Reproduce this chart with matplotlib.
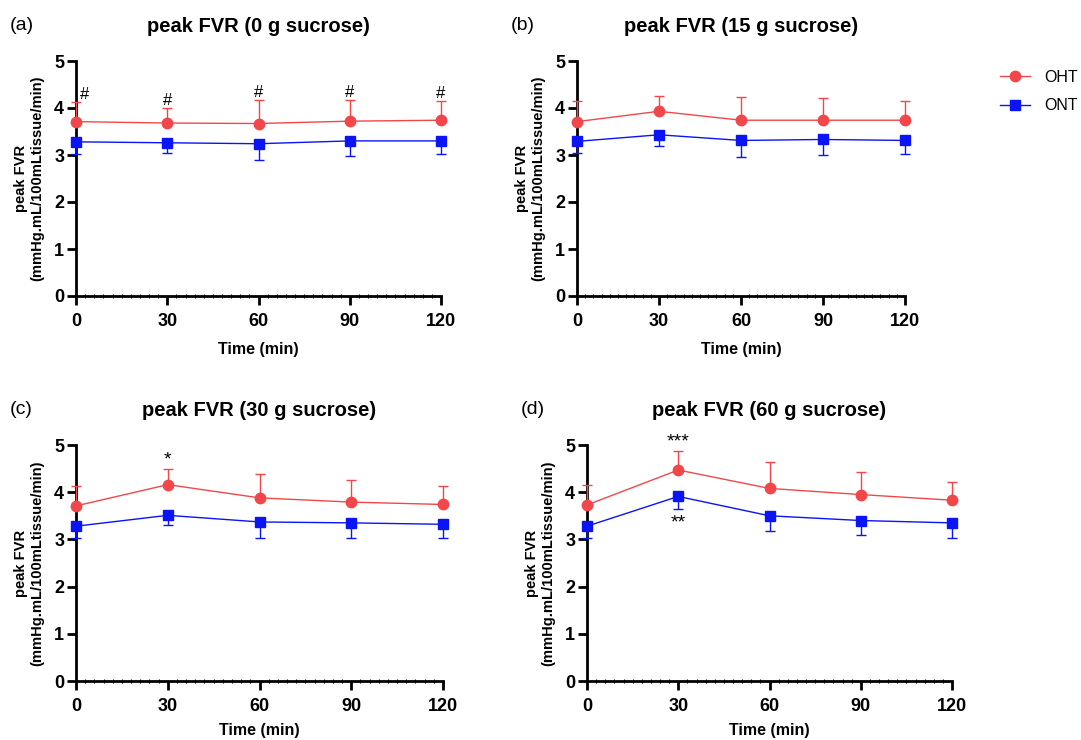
import matplotlib
matplotlib.use("Agg")
from matplotlib import rcParams
import matplotlib.pyplot as plt
from matplotlib.lines import Line2D
from matplotlib.ticker import MultipleLocator

rcParams["font.family"] = ["Liberation Sans", "DejaVu Sans"]

time_min = [0, 30, 60, 90, 120]
doses = ["0 g", "15 g", "30 g", "60 g"]
panel_tags = ["(a)", "(b)", "(c)", "(d)"]

# means and SD
oht_mean = [
    [3.71, 3.68, 3.67, 3.72, 3.74],
    [3.71, 3.93, 3.74, 3.74, 3.74],
    [3.71, 4.16, 3.88, 3.79, 3.74],
    [3.73, 4.47, 4.08, 3.95, 3.83],
]
oht_sd = [
    [0.42, 0.33, 0.50, 0.46, 0.40],
    [0.43, 0.32, 0.49, 0.47, 0.41],
    [0.43, 0.34, 0.50, 0.47, 0.40],
    [0.43, 0.41, 0.55, 0.48, 0.39],
]
ont_mean = [
    [3.28, 3.26, 3.24, 3.30, 3.30],
    [3.29, 3.43, 3.31, 3.33, 3.31],
    [3.28, 3.51, 3.37, 3.35, 3.32],
    [3.28, 3.91, 3.50, 3.40, 3.35],
]
ont_sd = [
    [0.26, 0.22, 0.35, 0.32, 0.28],
    [0.25, 0.24, 0.36, 0.33, 0.28],
    [0.26, 0.21, 0.35, 0.32, 0.28],
    [0.25, 0.27, 0.33, 0.31, 0.31],
]

# significance marks: (panel, time index, text, series)
marks = [
    (0, 0, "#", "OHT"), (0, 1, "#", "OHT"), (0, 2, "#", "OHT"),
    (0, 3, "#", "OHT"), (0, 4, "#", "OHT"),
    (2, 1, "*", "OHT"),
    (3, 1, "***", "OHT"),
    (3, 1, "**", "ONT"),
]

RED = "#f2474a"
BLUE = "#0a14f5"

fig = plt.figure(figsize=(10.81, 7.40), dpi=100)

boxes = [
    (76, 61, 441, 296),
    (577, 61, 905, 296),
    (76, 445, 443, 681),
    (587, 445, 952, 681),
]

axes = []
for i, (x0, y0, x1, y1) in enumerate(boxes):
    ax = fig.add_axes([x0 / 1081, 1 - y1 / 740, (x1 - x0) / 1081, (y1 - y0) / 740])
    axes.append(ax)

    for mean, sd, color, marker, up in (
        (oht_mean[i], oht_sd[i], RED, "o", True),
        (ont_mean[i], ont_sd[i], BLUE, "s", False),
    ):
        err = [[0] * 5, sd] if up else [sd, [0] * 5]
        h = ax.errorbar(
            time_min, mean, yerr=err,
            color=color, marker=marker, markersize=7.5, linewidth=1.0,
            elinewidth=1.0, capsize=3.6, capthick=1.0, clip_on=False, zorder=3,
        )
        for artist in h.lines[1] + h.lines[2]:
            artist.set_clip_on(False)

    ax.set_xlim(0, 120)
    ax.set_ylim(0, 5)
    ax.xaxis.set_major_locator(MultipleLocator(30))
    ax.xaxis.set_minor_locator(MultipleLocator(3))
    ax.yaxis.set_major_locator(MultipleLocator(1))

    for side in ("top", "right"):
        ax.spines[side].set_visible(False)
    for side in ("left", "bottom"):
        ax.spines[side].set_linewidth(2)

    ax.tick_params(axis="both", which="major", length=6.5, width=2, labelsize=13)
    ax.tick_params(axis="x", which="major", pad=5.5)
    ax.tick_params(axis="y", which="major", pad=2)
    ax.tick_params(axis="x", which="minor", length=2.5, width=0.8, direction="inout")
    for lab in ax.get_xticklabels() + ax.get_yticklabels():
        lab.set_fontweight("bold")

    ax.set_xlabel("Time (min)", fontsize=11.5, fontweight="bold",
                  labelpad=9 if i < 2 else 6)
    ax.set_ylabel("peak FVR\n(mmHg.mL/100mLtissue/min)", fontsize=10.6,
                  fontweight="bold", labelpad=7, linespacing=1.2)
    ax.text(0.5, 1.148, f"peak FVR ({doses[i]} sucrose)", transform=ax.transAxes,
            ha="center", va="center", fontsize=14.5, fontweight="bold")
    fig.text((x0 - 66) / 1081, 1 - (y0 - 36) / 740, panel_tags[i],
             ha="left", va="center", fontsize=14)

for p, k, txt, series in marks:
    ax = axes[p]
    fs = 14 if "*" in txt else 12
    if series == "OHT":
        y = oht_mean[p][k] + oht_sd[p][k]
        dx = 6 if time_min[k] == 0 else 0
        ax.annotate(txt, (time_min[k], y), xytext=(dx, 0), textcoords="offset points",
                    ha="center", va="bottom", fontsize=fs, annotation_clip=False)
    else:
        y = ont_mean[p][k] - ont_sd[p][k]
        ax.annotate(txt, (time_min[k], y), xytext=(0, -4), textcoords="offset points",
                    ha="center", va="top", fontsize=fs, annotation_clip=False)

handles = [
    Line2D([], [], color=RED, marker="o", markersize=7.5, linewidth=1.0),
    Line2D([], [], color=BLUE, marker="s", markersize=7.5, linewidth=1.0),
]
fig.legend(handles, ["OHT", "ONT"], loc="upper left", bbox_to_anchor=(0.925, 0.906),
           frameon=False, fontsize=11.5, handlelength=1.9, handletextpad=0.9,
           labelspacing=0.85, borderaxespad=0, borderpad=0)

fig.savefig("out.png", dpi=100)
